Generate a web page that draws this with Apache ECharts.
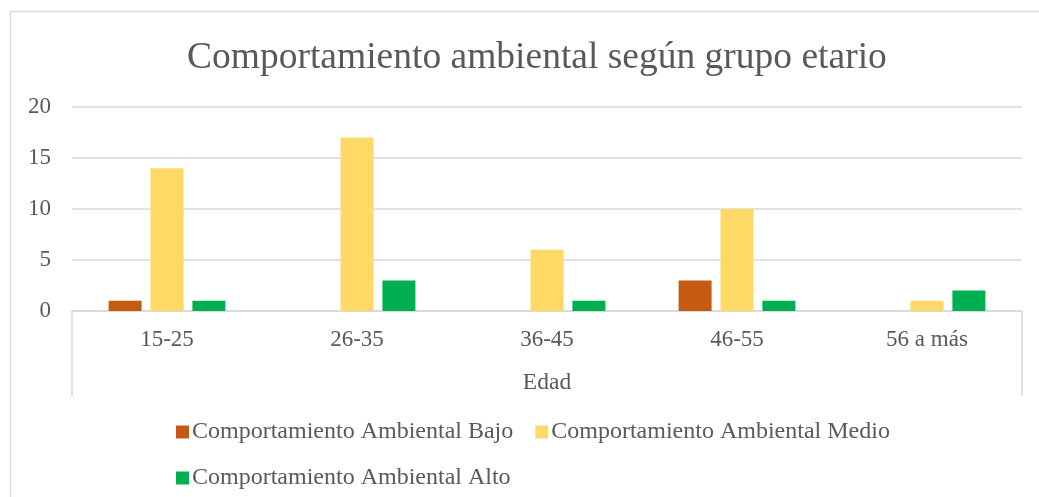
<!DOCTYPE html>
<html>
<head>
<meta charset="utf-8">
<script src="https://cdn.jsdelivr.net/npm/echarts@6/dist/echarts.min.js"></script>
<style>
    html, body { margin: 0; padding: 0; background: #fff; }
    #chart { width: 1039px; height: 497px; }
</style>
</head>
<body>
<div id="chart"></div>
<script>
    var categories = ['15-25', '26-35', '36-45', '46-55', '56 a más'];
    var seriesNames = ['Comportamiento Ambiental Bajo', 'Comportamiento Ambiental Medio', 'Comportamiento Ambiental Alto'];
    var bajo = [1, 0, 0, 3, 0];
    var medio = [14, 17, 6, 10, 1];
    var alto = [1, 3, 1, 1, 2];
    var colors = ['#C55A11', '#FFD966', '#00B050'];

    var font = '"Liberation Serif", "DejaVu Serif", serif';
    var textColor = '#595959';
    var lineColor = '#d9d9d9';

    var chart = echarts.init(document.getElementById('chart'));

    var option = {
        animation: false,
        color: colors,
        textStyle: { fontFamily: font, color: textColor },
        title: {
            text: 'Comportamiento ambiental según grupo etario',
            left: 182,
            top: 34,
            textStyle: { fontFamily: font, fontSize: 37.5, fontWeight: 'normal', color: textColor }
        },
        grid: { left: 72, right: 17, top: 107, bottom: 186 },
        legend: {
            left: 171,
            top: 415,
            width: 780,
            itemWidth: 13,
            itemHeight: 13,
            itemGap: 22,
            icon: 'rect',
            textStyle: { fontFamily: font, fontSize: 24, color: textColor, padding: [0, 7, 0, -2] },
            data: seriesNames
        },
        xAxis: {
            type: 'category',
            data: categories,
            name: 'Edad',
            nameLocation: 'middle',
            nameGap: 60,
            nameTextStyle: { fontFamily: font, fontSize: 23.5, color: textColor },
            axisLine: { lineStyle: { color: lineColor, width: 1.5 } },
            axisTick: { show: false },
            axisLabel: { fontFamily: font, fontSize: 23, color: textColor, margin: 17 }
        },
        yAxis: {
            type: 'value',
            min: 0,
            max: 20,
            interval: 5,
            axisLine: { show: false },
            axisTick: { show: false },
            axisLabel: { fontFamily: font, fontSize: 23, color: textColor, margin: 21 },
            splitLine: { lineStyle: { color: lineColor, width: 1.5 } }
        },
        graphic: [
            { type: 'rect', shape: { x: 10.5, y: 11.5, width: 1200, height: 600 }, style: { fill: null, stroke: lineColor, lineWidth: 1.5 }, silent: true },
            { type: 'line', shape: { x1: 72, y1: 311, x2: 72, y2: 396 }, style: { stroke: lineColor, lineWidth: 1.5 }, silent: true },
            { type: 'line', shape: { x1: 1022, y1: 311, x2: 1022, y2: 396 }, style: { stroke: lineColor, lineWidth: 1.5 }, silent: true }
        ],
        series: [
            { name: seriesNames[0], type: 'bar', data: bajo, barWidth: 33, barGap: '27%' },
            { name: seriesNames[1], type: 'bar', data: medio, barWidth: 33, barGap: '27%' },
            { name: seriesNames[2], type: 'bar', data: alto, barWidth: 33, barGap: '27%' }
        ]
    };

    chart.setOption(option);
</script>
</body>
</html>
